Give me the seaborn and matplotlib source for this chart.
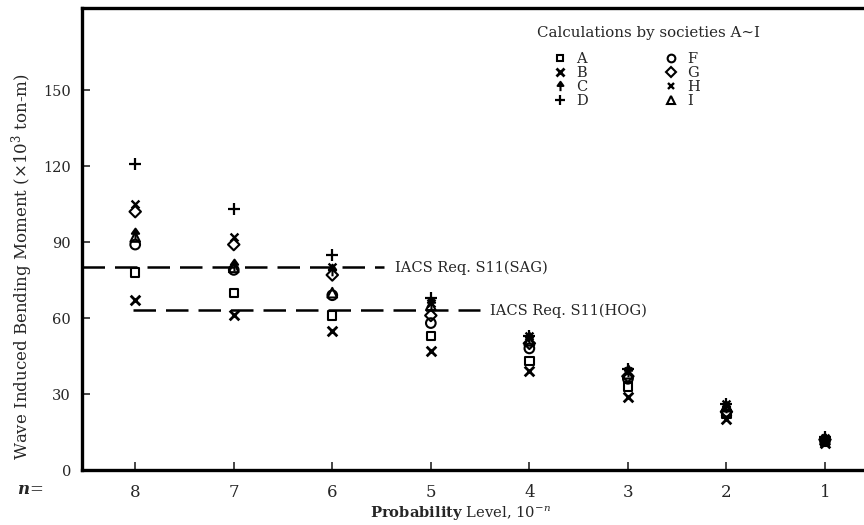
import numpy as np
import pandas as pd
import matplotlib
matplotlib.use("Agg")
import matplotlib.pyplot as plt
import seaborn as sns
from matplotlib.path import Path
from matplotlib.lines import Line2D
import warnings
warnings.filterwarnings("ignore")

# ---------------- data ----------------
n_levels = [8, 7, 6, 5, 4, 3, 2, 1]
A = [78, 70, 61, 53, 43, 33, 22, 11]
B = [67, 61, 55, 47, 39, 29, 20, 10.5]
C = [93, 81, 79, 66, 52, 39, 25, 12]
D = [121, 103, 85, 68, 53, 40, 26, 13]
F = [89, 79, 69, 58, 48, 36, 23, 11.5]
G = [102, 89, 77, 61, 50, 37, 23, 12]
H = [105, 92, 80, 66, 53, 39, 26, 12.5]
I = [92, 80, 70, 65, 51, 38, 25, 12]
societies = ["A", "B", "C", "D", "F", "G", "H", "I"]
series = {"A": A, "B": B, "C": C, "D": D, "F": F, "G": G, "H": H, "I": I}
sag_level = 80
hog_level = 63
sag_label = "IACS Req. S11(SAG)"
hog_label = "IACS Req. S11(HOG)"
y_ticks = [0, 30, 60, 90, 120, 150]
x_tick_labels = ["8", "7", "6", "5", "4", "3", "2", "1"]
legend_title = "Calculations by societies A\u223cI"

df = pd.DataFrame(
    [(s, n, v) for s in societies for n, v in zip(n_levels, series[s])],
    columns=["society", "n", "moment"],
)

# ---------------- style ----------------
sns.set_style("ticks")
plt.rcParams["font.family"] = ["DejaVu Serif"]
plt.rcParams["mathtext.fontset"] = "dejavuserif"

arrow = Path(
    [(-0.5, 0.1), (0.5, 0.1), (0.0, 0.8), (-0.5, 0.1), (0.0, 0.1), (0.0, -0.8)],
    [Path.MOVETO, Path.LINETO, Path.LINETO, Path.CLOSEPOLY, Path.MOVETO, Path.LINETO],
)

styles = {
    "A": dict(marker="s", s=36, facecolor="none", lw=1.5),
    "B": dict(marker="x", s=48, lw=2.0),
    "C": dict(marker=arrow, s=70, facecolor="black", lw=1.5),
    "D": dict(marker="+", s=80, lw=1.6),
    "F": dict(marker="o", s=48, facecolor="none", lw=1.5),
    "G": dict(marker="D", s=34, facecolor="none", lw=1.5),
    "H": dict(marker="x", s=32, lw=1.7),
    "I": dict(marker="^", s=48, facecolor="none", lw=1.5),
}

fig = plt.figure(figsize=(8.64, 5.25), dpi=100)
ax = fig.add_axes([82 / 864, 1 - 470 / 525, (864 - 82) / 864, (470 - 8) / 525])

for s in societies:
    st = styles[s]
    sub = df[df["society"] == s]
    kw = dict(x=sub["n"], y=sub["moment"], ax=ax, marker=st["marker"], s=st["s"],
              color="black", linewidth=st["lw"], zorder=3, legend=False)
    if "facecolor" in st:
        kw["facecolor"] = st["facecolor"]
        kw["edgecolor"] = "black"
    sns.scatterplot(**kw)

# reference lines
ax.hlines(sag_level, 8.54, 5.48, colors="black", linestyles=(0, (9, 4)), lw=1.8, zorder=2)
ax.text(5.36, sag_level, sag_label, va="center", ha="left", fontsize=10.5)
ax.hlines(hog_level, 8.02, 4.50, colors="black", linestyles=(0, (9, 4)), lw=1.8, zorder=2)
ax.text(4.40, hog_level, hog_label, va="center", ha="left", fontsize=10.5)

ax.set_xlim(8.54, 0.604)
ax.set_ylim(0, 182.4)
ax.set_xticks(n_levels)
ax.set_xticklabels(x_tick_labels, fontsize=12)
ax.set_yticks(y_ticks)
ax.set_yticklabels([str(t) for t in y_ticks], fontsize=10.5)
ax.tick_params(axis="x", direction="in", length=6, width=1.2, pad=10)
ax.tick_params(axis="y", direction="in", length=6, width=1.2, pad=8)
ax.set_xlabel("")
ax.set_ylabel("")
for side in ["left", "bottom", "top"]:
    ax.spines[side].set_linewidth(2.4)
    ax.spines[side].set_color("black")
ax.spines["right"].set_visible(False)

fig.text(30 / 864, 1 - 490 / 525, r"$\boldsymbol{n}$=", fontsize=12, ha="center", va="center")
fig.text(460 / 864, 1 - 514 / 525, r"$\mathbf{Probability}$ Level, 10$^{-n}$",
         fontsize=10.6, ha="center", va="center")
fig.text(22 / 864, 1 - 267 / 525,
         "Wave Induced Bending Moment (\u00d710$^3$ ton-m)",
         rotation=90, fontsize=12, ha="center", va="center")

fig.text(537 / 864, 1 - 33 / 525, legend_title, fontsize=10.8, ha="left", va="center")

handles = []
for s in societies:
    st = styles[s]
    fc = st.get("facecolor", "black")
    handles.append(Line2D([], [], linestyle="none", marker=st["marker"], color="black",
                          markerfacecolor=fc, markeredgecolor="black",
                          markersize=np.sqrt(st["s"]) * 0.8, markeredgewidth=st["lw"]))
leg = ax.legend(handles, societies, ncol=2, frameon=False,
                loc="upper left", bbox_to_anchor=(540 / 864, 1 - 39 / 525),
                bbox_transform=fig.transFigure, fontsize=10.5,
                handletextpad=0.6, columnspacing=5.2, labelspacing=0.0,
                handlelength=1.0)

fig.savefig("out.png", dpi=100)
